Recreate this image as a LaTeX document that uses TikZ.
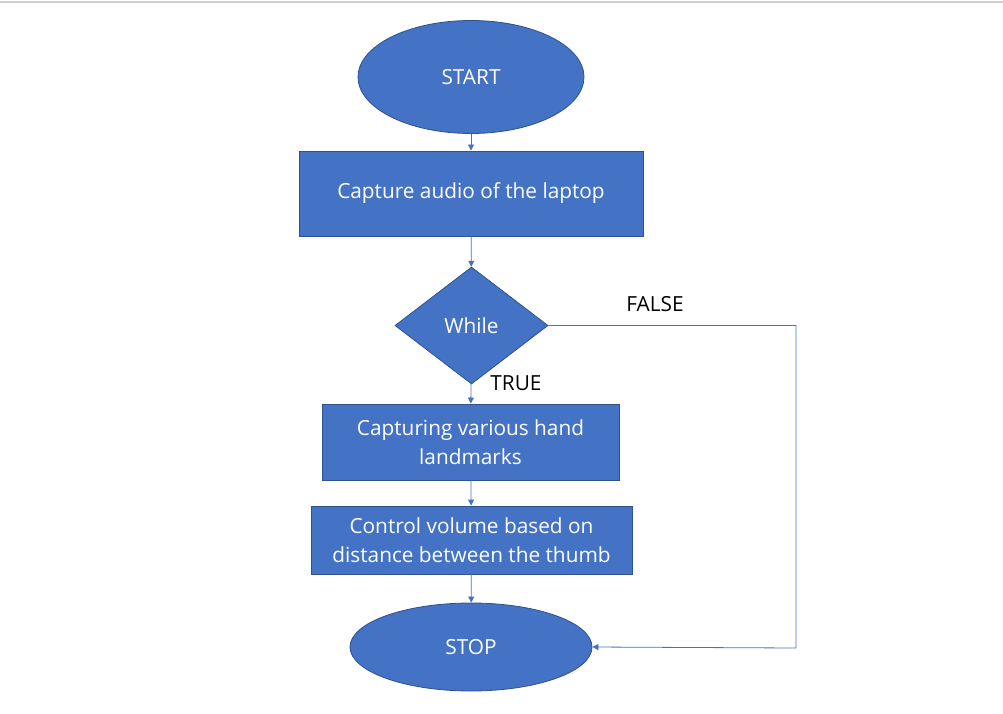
\documentclass[tikz,border=0pt]{standalone}
\usepackage{fontspec}
\setmainfont{Open Sans}
\usetikzlibrary{shapes.geometric,arrows.meta}
\definecolor{fillblue}{HTML}{4472C4}
\definecolor{edgeblue}{HTML}{2F528F}
\begin{document}
\begin{tikzpicture}[x=1pt,y=-1pt,
  shapebase/.style={fill=fillblue,draw=edgeblue,line width=0.8pt,text=white,font=\fontsize{20.8}{28.5}\selectfont,inner sep=0pt,align=center},
  oval/.style={shapebase,ellipse},
  procbox/.style={shapebase,rectangle},
  decision/.style={shapebase,diamond},
  flow/.style={draw=fillblue,line width=0.8pt,-{Triangle[length=6pt,width=6pt]}},
  lbl/.style={font=\fontsize{20.8}{24}\selectfont,text=black,inner sep=0pt}]
\useasboundingbox (0,0) rectangle (1003,714);
\fill[white] (0,0) rectangle (1003,714);
\fill[black!18] (0,1) rectangle (1003,3.5);
\node[oval,minimum width=226pt,minimum height=113pt] (start) at (471,77) {START};
\node[procbox,minimum width=344pt,minimum height=85pt] (cap) at (471,193.5) {Capture audio of the laptop};
\node[decision,minimum width=153pt,minimum height=117pt] (while) at (471.5,325.5) {While};
\node[procbox,minimum width=297pt,minimum height=76pt] (hand) at (470.5,442) {Capturing various hand\\landmarks};
\node[procbox,minimum width=321pt,minimum height=68pt] (vol) at (471.5,540) {Control volume based on\\distance between the thumb};
\node[oval,minimum width=242pt,minimum height=88pt] (stop) at (471,647) {STOP};
\coordinate (c1) at (796,325.5);
\coordinate (c2) at (796,648);
\draw[flow] (start) -- (cap);
\draw[flow] (cap) -- (while);
\draw[flow] (while) -- (hand);
\draw[flow] (hand) -- (vol);
\draw[flow] (vol) -- (stop);
\draw[flow] (while.east) -- (c1) -- (c2) -- (stop.east);
\node[lbl] (ltrue) at (516,383) {TRUE};
\node[lbl] (lfalse) at (655,304) {FALSE};
\end{tikzpicture}
\end{document}
